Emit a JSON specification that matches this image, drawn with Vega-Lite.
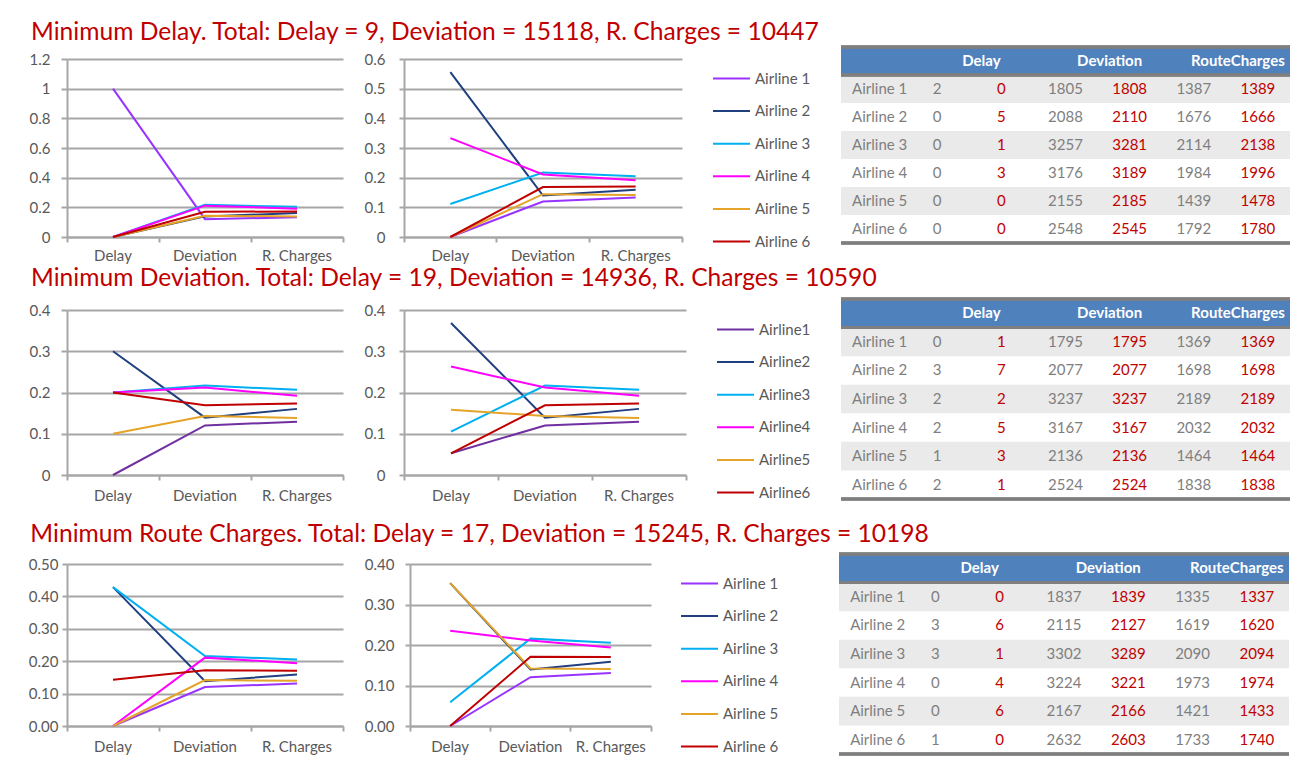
{
 "$schema": "https://vega.github.io/schema/vega-lite/v6.json",
 "padding": {"left": 28, "top": 19, "right": 0, "bottom": 0},
 "background": "white",
 "config": {
  "font": "Lato",
  "view": {"stroke": null},
  "axis": {"labelFont": "Lato", "labelFontSize": 15, "labelColor": "#595959", "domainColor": "#A6A6A6", "tickColor": "#A6A6A6", "gridColor": "#A6A6A6", "gridWidth": 2, "domainWidth": 2, "tickWidth": 2, "title": null},
  "legend": {"title": null, "orient": "right", "padding": 0, "symbolType": "stroke", "symbolSize": 1369, "symbolStrokeWidth": 2, "labelFont": "Lato", "labelFontSize": 15, "labelColor": "#595959", "labelOffset": 4, "rowPadding": 4.6},
  "title": {"anchor": "start", "font": "Lato", "fontSize": 24.6, "fontWeight": "normal", "color": "#C00000", "offset": 0, "dx": 2}
 },
 "datasets": {
  "lines": [
   {"chart": "1L", "airline": "Airline 1", "Delay": 1, "Deviation": 0.1201, "RCharges": 0.1335},
   {"chart": "1L", "airline": "Airline 2", "Delay": 0, "Deviation": 0.1389, "RCharges": 0.1613},
   {"chart": "1L", "airline": "Airline 3", "Delay": 0, "Deviation": 0.2167, "RCharges": 0.2034},
   {"chart": "1L", "airline": "Airline 4", "Delay": 0, "Deviation": 0.2113, "RCharges": 0.1909},
   {"chart": "1L", "airline": "Airline 5", "Delay": 0, "Deviation": 0.1434, "RCharges": 0.1385},
   {"chart": "1L", "airline": "Airline 6", "Delay": 0, "Deviation": 0.1695, "RCharges": 0.1724},
   {"chart": "1M", "airline": "Airline 1", "Delay": 0, "Deviation": 0.1196, "RCharges": 0.1330},
   {"chart": "1M", "airline": "Airline 2", "Delay": 0.5556, "Deviation": 0.1396, "RCharges": 0.1595},
   {"chart": "1M", "airline": "Airline 3", "Delay": 0.1111, "Deviation": 0.2170, "RCharges": 0.2047},
   {"chart": "1M", "airline": "Airline 4", "Delay": 0.3333, "Deviation": 0.2109, "RCharges": 0.1911},
   {"chart": "1M", "airline": "Airline 5", "Delay": 0, "Deviation": 0.1445, "RCharges": 0.1415},
   {"chart": "1M", "airline": "Airline 6", "Delay": 0, "Deviation": 0.1683, "RCharges": 0.1704},
   {"chart": "2L", "airline": "Airline1", "Delay": 0, "Deviation": 0.1202, "RCharges": 0.1293},
   {"chart": "2L", "airline": "Airline2", "Delay": 0.3, "Deviation": 0.1391, "RCharges": 0.1603},
   {"chart": "2L", "airline": "Airline3", "Delay": 0.2, "Deviation": 0.2167, "RCharges": 0.2067},
   {"chart": "2L", "airline": "Airline4", "Delay": 0.2, "Deviation": 0.2120, "RCharges": 0.1919},
   {"chart": "2L", "airline": "Airline5", "Delay": 0.1, "Deviation": 0.1430, "RCharges": 0.1382},
   {"chart": "2L", "airline": "Airline6", "Delay": 0.2, "Deviation": 0.1690, "RCharges": 0.1736},
   {"chart": "2M", "airline": "Airline1", "Delay": 0.0526, "Deviation": 0.1202, "RCharges": 0.1293},
   {"chart": "2M", "airline": "Airline2", "Delay": 0.3684, "Deviation": 0.1391, "RCharges": 0.1603},
   {"chart": "2M", "airline": "Airline3", "Delay": 0.1053, "Deviation": 0.2167, "RCharges": 0.2067},
   {"chart": "2M", "airline": "Airline4", "Delay": 0.2632, "Deviation": 0.2120, "RCharges": 0.1919},
   {"chart": "2M", "airline": "Airline5", "Delay": 0.1579, "Deviation": 0.1430, "RCharges": 0.1382},
   {"chart": "2M", "airline": "Airline6", "Delay": 0.0526, "Deviation": 0.1690, "RCharges": 0.1736},
   {"chart": "3L", "airline": "Airline 1", "Delay": 0, "Deviation": 0.1202, "RCharges": 0.1313},
   {"chart": "3L", "airline": "Airline 2", "Delay": 0.4286, "Deviation": 0.1384, "RCharges": 0.1592},
   {"chart": "3L", "airline": "Airline 3", "Delay": 0.4286, "Deviation": 0.2161, "RCharges": 0.2055},
   {"chart": "3L", "airline": "Airline 4", "Delay": 0, "Deviation": 0.2110, "RCharges": 0.1940},
   {"chart": "3L", "airline": "Airline 5", "Delay": 0, "Deviation": 0.1418, "RCharges": 0.1397},
   {"chart": "3L", "airline": "Airline 6", "Delay": 0.1429, "Deviation": 0.1723, "RCharges": 0.1704},
   {"chart": "3M", "airline": "Airline 1", "Delay": 0, "Deviation": 0.1206, "RCharges": 0.1311},
   {"chart": "3M", "airline": "Airline 2", "Delay": 0.3529, "Deviation": 0.1395, "RCharges": 0.1589},
   {"chart": "3M", "airline": "Airline 3", "Delay": 0.0588, "Deviation": 0.2157, "RCharges": 0.2053},
   {"chart": "3M", "airline": "Airline 4", "Delay": 0.2353, "Deviation": 0.2113, "RCharges": 0.1936},
   {"chart": "3M", "airline": "Airline 5", "Delay": 0.3529, "Deviation": 0.1421, "RCharges": 0.1405},
   {"chart": "3M", "airline": "Airline 6", "Delay": 0, "Deviation": 0.1707, "RCharges": 0.1706}
  ],
  "tab": [
   {"t": 1, "airline": "Airline 1", "gd": 2, "rd": 0, "gv": 1805, "rv": 1808, "gr": 1387, "rr": 1389},
   {"t": 1, "airline": "Airline 2", "gd": 0, "rd": 5, "gv": 2088, "rv": 2110, "gr": 1676, "rr": 1666},
   {"t": 1, "airline": "Airline 3", "gd": 0, "rd": 1, "gv": 3257, "rv": 3281, "gr": 2114, "rr": 2138},
   {"t": 1, "airline": "Airline 4", "gd": 0, "rd": 3, "gv": 3176, "rv": 3189, "gr": 1984, "rr": 1996},
   {"t": 1, "airline": "Airline 5", "gd": 0, "rd": 0, "gv": 2155, "rv": 2185, "gr": 1439, "rr": 1478},
   {"t": 1, "airline": "Airline 6", "gd": 0, "rd": 0, "gv": 2548, "rv": 2545, "gr": 1792, "rr": 1780},
   {"t": 2, "airline": "Airline 1", "gd": 0, "rd": 1, "gv": 1795, "rv": 1795, "gr": 1369, "rr": 1369},
   {"t": 2, "airline": "Airline 2", "gd": 3, "rd": 7, "gv": 2077, "rv": 2077, "gr": 1698, "rr": 1698},
   {"t": 2, "airline": "Airline 3", "gd": 2, "rd": 2, "gv": 3237, "rv": 3237, "gr": 2189, "rr": 2189},
   {"t": 2, "airline": "Airline 4", "gd": 2, "rd": 5, "gv": 3167, "rv": 3167, "gr": 2032, "rr": 2032},
   {"t": 2, "airline": "Airline 5", "gd": 1, "rd": 3, "gv": 2136, "rv": 2136, "gr": 1464, "rr": 1464},
   {"t": 2, "airline": "Airline 6", "gd": 2, "rd": 1, "gv": 2524, "rv": 2524, "gr": 1838, "rr": 1838},
   {"t": 3, "airline": "Airline 1", "gd": 0, "rd": 0, "gv": 1837, "rv": 1839, "gr": 1335, "rr": 1337},
   {"t": 3, "airline": "Airline 2", "gd": 3, "rd": 6, "gv": 2115, "rv": 2127, "gr": 1619, "rr": 1620},
   {"t": 3, "airline": "Airline 3", "gd": 3, "rd": 1, "gv": 3302, "rv": 3289, "gr": 2090, "rr": 2094},
   {"t": 3, "airline": "Airline 4", "gd": 0, "rd": 4, "gv": 3224, "rv": 3221, "gr": 1973, "rr": 1974},
   {"t": 3, "airline": "Airline 5", "gd": 0, "rd": 6, "gv": 2167, "rv": 2166, "gr": 1421, "rr": 1433},
   {"t": 3, "airline": "Airline 6", "gd": 1, "rd": 0, "gv": 2632, "rv": 2603, "gr": 1733, "rr": 1740}
  ],
  "hdr": [
   {"label": "Delay", "col": "rd"},
   {"label": "Deviation", "col": "rv"},
   {"label": "RouteCharges", "col": "rr"}
  ]
 },
 "columns": 1,
 "align": "none",
 "spacing": 11,
 "center": false,
 "resolve": {"scale": {"color": "independent"}},
 "concat": [
  {
   "columns": 1,
   "align": "none",
   "spacing": 2,
   "center": false,
   "resolve": {"scale": {"color": "independent"}},
   "concat": [
  {
   "title": {"text": "Minimum Delay. Total: Delay = 9, Deviation = 15118, R. Charges = 10447", "offset": 0},
   "align": "none",
   "spacing": 20,
   "resolve": {"scale": {"color": "independent"}},
   "concat": [
    {
     "width": 276, "height": 178,
     "data": {"name": "lines"},
     "transform": [{"filter": "datum.chart === '1L'"}, {"fold": ["Delay", "Deviation", "RCharges"], "as": ["metric", "share"]}],
     "mark": {"type": "line", "strokeWidth": 2},
     "encoding": {
      "x": {"field": "metric", "type": "nominal", "bandPosition": 0.5, "scale": {"type": "band", "domain": ["Delay", "Deviation", "RCharges"], "paddingInner": 0, "paddingOuter": 0}, "axis": {"labelExpr": "datum.value === 'RCharges' ? 'R. Charges' : datum.value", "bandPosition": 1, "tickExtra": true, "tickSize": 5, "labelPadding": 6, "labelAngle": 0, "labelOverlap": false, "grid": false}},
      "y": {"field": "share", "type": "quantitative", "scale": {"domain": [0, 1.2], "nice": false}, "axis": {"values": [0, 0.2, 0.4, 0.6, 0.8, 1, 1.2], "format": "~g", "grid": true, "tickSize": 6, "labelPadding": 11}},
      "color": {"field": "airline", "type": "nominal", "scale": {"domain": ["Airline 1", "Airline 2", "Airline 3", "Airline 4", "Airline 5", "Airline 6"], "range": ["#9933FF", "#1F3F7F", "#00B0F0", "#FF00FF", "#E5A428", "#C00000"]}, "legend": null}
     }
    },
    {
     "align": "none",
     "spacing": 28,
     "resolve": {"scale": {"color": "independent"}},
     "concat": [
      {
       "width": 278, "height": 178,
       "data": {"name": "lines"},
       "transform": [{"filter": "datum.chart === '1M'"}, {"fold": ["Delay", "Deviation", "RCharges"], "as": ["metric", "share"]}],
       "mark": {"type": "line", "strokeWidth": 2},
       "encoding": {
        "x": {"field": "metric", "type": "nominal", "bandPosition": 0.5, "scale": {"type": "band", "domain": ["Delay", "Deviation", "RCharges"], "paddingInner": 0, "paddingOuter": 0}, "axis": {"labelExpr": "datum.value === 'RCharges' ? 'R. Charges' : datum.value", "bandPosition": 1, "tickExtra": true, "tickSize": 5, "labelPadding": 6, "labelAngle": 0, "labelOverlap": false, "grid": false}},
        "y": {"field": "share", "type": "quantitative", "scale": {"domain": [0, 0.6], "nice": false}, "axis": {"values": [0, 0.1, 0.2, 0.3, 0.4, 0.5, 0.6], "format": "~g", "grid": true, "tickSize": 5, "labelPadding": 14}},
        "color": {"field": "airline", "type": "nominal", "scale": {"domain": ["Airline 1", "Airline 2", "Airline 3", "Airline 4", "Airline 5", "Airline 6"], "range": ["#9933FF", "#1F3F7F", "#00B0F0", "#FF00FF", "#E5A428", "#C00000"]}, "legend": {"offset": 30}}
       }
      },
      {
       "width": 449, "height": 196,
       "layer": [
        {"data": {"name": "tab"}, "transform": [{"filter": "datum.t === 1"}, {"filter": {"field": "airline", "oneOf": ["Airline 1", "Airline 3", "Airline 5"]}}],
         "mark": {"type": "rect", "fill": "#EAEAEA"},
         "encoding": {"y": {"field": "airline", "type": "nominal", "scale": {"domain": ["H", "Airline 1", "Airline 2", "Airline 3", "Airline 4", "Airline 5", "Airline 6"], "range": [-12, 184], "paddingInner": 0, "paddingOuter": 0}, "axis": null}}},
        {"data": {"name": "hdr"}, "mark": {"type": "rect", "fill": "#4F81BD"},
         "encoding": {"y": {"datum": "H", "type": "nominal", "scale": {"domain": ["H", "Airline 1", "Airline 2", "Airline 3", "Airline 4", "Airline 5", "Airline 6"], "range": [-12, 184], "paddingInner": 0, "paddingOuter": 0}, "axis": null}}},
        {"data": {"name": "hdr"}, "mark": {"type": "rule", "stroke": "#7F7F7F", "strokeWidth": 3},
         "encoding": {"y": {"datum": "H", "type": "nominal", "bandPosition": 0, "scale": {"domain": ["H", "Airline 1", "Airline 2", "Airline 3", "Airline 4", "Airline 5", "Airline 6"], "range": [-12, 184], "paddingInner": 0, "paddingOuter": 0}, "axis": null}}},
        {"data": {"name": "hdr"}, "mark": {"type": "rule", "stroke": "#7F7F7F", "strokeWidth": 3},
         "encoding": {"y": {"datum": "Airline 1", "type": "nominal", "bandPosition": 0, "scale": {"domain": ["H", "Airline 1", "Airline 2", "Airline 3", "Airline 4", "Airline 5", "Airline 6"], "range": [-12, 184], "paddingInner": 0, "paddingOuter": 0}, "axis": null}}},
        {"data": {"name": "hdr"}, "mark": {"type": "rule", "stroke": "#7F7F7F", "strokeWidth": 3},
         "encoding": {"y": {"datum": "Airline 6", "type": "nominal", "bandPosition": 1, "scale": {"domain": ["H", "Airline 1", "Airline 2", "Airline 3", "Airline 4", "Airline 5", "Airline 6"], "range": [-12, 184], "paddingInner": 0, "paddingOuter": 0}, "axis": null}}},
        {"data": {"name": "tab"}, "transform": [{"filter": "datum.t === 1"}],
         "mark": {"type": "text", "align": "left", "baseline": "middle", "dx": -21, "fontSize": 15, "font": "Lato", "fill": "#7F7F7F"},
         "encoding": {
          "x": {"datum": "name", "type": "nominal", "scale": {"domain": ["name", "gd", "rd", "gv", "rv", "gr", "rr"], "paddingInner": 0, "paddingOuter": 0}, "axis": null},
          "y": {"field": "airline", "type": "nominal", "scale": {"domain": ["H", "Airline 1", "Airline 2", "Airline 3", "Airline 4", "Airline 5", "Airline 6"], "range": [-12, 184], "paddingInner": 0, "paddingOuter": 0}, "axis": null},
          "text": {"field": "airline", "type": "nominal"}}},
        {"data": {"name": "tab"}, "transform": [{"filter": "datum.t === 1"}, {"fold": ["gd", "gv", "gr"], "as": ["col", "val"]}],
         "mark": {"type": "text", "align": "center", "baseline": "middle", "fontSize": 15, "font": "Lato", "fill": "#7F7F7F"},
         "encoding": {
          "x": {"field": "col", "type": "nominal", "scale": {"domain": ["name", "gd", "rd", "gv", "rv", "gr", "rr"], "paddingInner": 0, "paddingOuter": 0}, "axis": null},
          "y": {"field": "airline", "type": "nominal", "scale": {"domain": ["H", "Airline 1", "Airline 2", "Airline 3", "Airline 4", "Airline 5", "Airline 6"], "range": [-12, 184], "paddingInner": 0, "paddingOuter": 0}, "axis": null},
          "text": {"field": "val", "type": "nominal"}}},
        {"data": {"name": "tab"}, "transform": [{"filter": "datum.t === 1"}, {"fold": ["rd", "rv", "rr"], "as": ["col", "val"]}],
         "mark": {"type": "text", "align": "center", "baseline": "middle", "fontSize": 15, "font": "Lato", "fill": "#C00000"},
         "encoding": {
          "x": {"field": "col", "type": "nominal", "scale": {"domain": ["name", "gd", "rd", "gv", "rv", "gr", "rr"], "paddingInner": 0, "paddingOuter": 0}, "axis": null},
          "y": {"field": "airline", "type": "nominal", "scale": {"domain": ["H", "Airline 1", "Airline 2", "Airline 3", "Airline 4", "Airline 5", "Airline 6"], "range": [-12, 184], "paddingInner": 0, "paddingOuter": 0}, "axis": null},
          "text": {"field": "val", "type": "nominal"}}},
        {"data": {"name": "hdr"},
         "mark": {"type": "text", "align": "center", "baseline": "middle", "dx": -20, "fontSize": 15, "font": "Lato", "fontWeight": "bold", "fill": "#FFFFFF"},
         "encoding": {
          "x": {"field": "col", "type": "nominal", "scale": {"domain": ["name", "gd", "rd", "gv", "rv", "gr", "rr"], "paddingInner": 0, "paddingOuter": 0}, "axis": null},
          "y": {"datum": "H", "type": "nominal", "scale": {"domain": ["H", "Airline 1", "Airline 2", "Airline 3", "Airline 4", "Airline 5", "Airline 6"], "range": [-12, 184], "paddingInner": 0, "paddingOuter": 0}, "axis": null},
          "text": {"field": "label", "type": "nominal"}}}
       ]
      }
     ]
    }
   ]
  },
  {
   "title": {"text": "Minimum Deviation. Total: Delay = 19, Deviation = 14936, R. Charges = 10590", "offset": 6},
   "align": "none",
   "spacing": 20,
   "resolve": {"scale": {"color": "independent"}},
   "concat": [
    {
     "width": 276, "height": 165,
     "data": {"name": "lines"},
     "transform": [{"filter": "datum.chart === '2L'"}, {"fold": ["Delay", "Deviation", "RCharges"], "as": ["metric", "share"]}],
     "mark": {"type": "line", "strokeWidth": 2},
     "encoding": {
      "x": {"field": "metric", "type": "nominal", "bandPosition": 0.5, "scale": {"type": "band", "domain": ["Delay", "Deviation", "RCharges"], "paddingInner": 0, "paddingOuter": 0}, "axis": {"labelExpr": "datum.value === 'RCharges' ? 'R. Charges' : datum.value", "bandPosition": 1, "tickExtra": true, "tickSize": 5, "labelPadding": 8, "labelAngle": 0, "labelOverlap": false, "grid": false}},
      "y": {"field": "share", "type": "quantitative", "scale": {"domain": [0, 0.4], "nice": false}, "axis": {"values": [0, 0.1, 0.2, 0.3, 0.4], "format": "~g", "grid": true, "tickSize": 6, "labelPadding": 11}},
      "color": {"field": "airline", "type": "nominal", "scale": {"domain": ["Airline1", "Airline2", "Airline3", "Airline4", "Airline5", "Airline6"], "range": ["#7030A0", "#1F3F7F", "#00B0F0", "#FF00FF", "#E5A428", "#C00000"]}, "legend": null}
     }
    },
    {
     "align": "none",
     "spacing": 28,
     "resolve": {"scale": {"color": "independent"}},
     "concat": [
      {
       "width": 282, "height": 165,
       "data": {"name": "lines"},
       "transform": [{"filter": "datum.chart === '2M'"}, {"fold": ["Delay", "Deviation", "RCharges"], "as": ["metric", "share"]}],
       "mark": {"type": "line", "strokeWidth": 2},
       "encoding": {
        "x": {"field": "metric", "type": "nominal", "bandPosition": 0.5, "scale": {"type": "band", "domain": ["Delay", "Deviation", "RCharges"], "paddingInner": 0, "paddingOuter": 0}, "axis": {"labelExpr": "datum.value === 'RCharges' ? 'R. Charges' : datum.value", "bandPosition": 1, "tickExtra": true, "tickSize": 5, "labelPadding": 8, "labelAngle": 0, "labelOverlap": false, "grid": false}},
        "y": {"field": "share", "type": "quantitative", "scale": {"domain": [0, 0.4], "nice": false}, "axis": {"values": [0, 0.1, 0.2, 0.3, 0.4], "format": "~g", "grid": true, "tickSize": 5, "labelPadding": 14}},
        "color": {"field": "airline", "type": "nominal", "scale": {"domain": ["Airline1", "Airline2", "Airline3", "Airline4", "Airline5", "Airline6"], "range": ["#7030A0", "#1F3F7F", "#00B0F0", "#FF00FF", "#E5A428", "#C00000"]}, "legend": {"offset": 30}}
       }
      },
      {
       "width": 449, "height": 200,
       "layer": [
        {"data": {"name": "tab"}, "transform": [{"filter": "datum.t === 2"}, {"filter": {"field": "airline", "oneOf": ["Airline 1", "Airline 3", "Airline 5"]}}],
         "mark": {"type": "rect", "fill": "#EAEAEA"},
         "encoding": {"y": {"field": "airline", "type": "nominal", "scale": {"domain": ["H", "Airline 1", "Airline 2", "Airline 3", "Airline 4", "Airline 5", "Airline 6"], "range": [-11, 189], "paddingInner": 0, "paddingOuter": 0}, "axis": null}}},
        {"data": {"name": "hdr"}, "mark": {"type": "rect", "fill": "#4F81BD"},
         "encoding": {"y": {"datum": "H", "type": "nominal", "scale": {"domain": ["H", "Airline 1", "Airline 2", "Airline 3", "Airline 4", "Airline 5", "Airline 6"], "range": [-11, 189], "paddingInner": 0, "paddingOuter": 0}, "axis": null}}},
        {"data": {"name": "hdr"}, "mark": {"type": "rule", "stroke": "#7F7F7F", "strokeWidth": 3},
         "encoding": {"y": {"datum": "H", "type": "nominal", "bandPosition": 0, "scale": {"domain": ["H", "Airline 1", "Airline 2", "Airline 3", "Airline 4", "Airline 5", "Airline 6"], "range": [-11, 189], "paddingInner": 0, "paddingOuter": 0}, "axis": null}}},
        {"data": {"name": "hdr"}, "mark": {"type": "rule", "stroke": "#7F7F7F", "strokeWidth": 3},
         "encoding": {"y": {"datum": "Airline 1", "type": "nominal", "bandPosition": 0, "scale": {"domain": ["H", "Airline 1", "Airline 2", "Airline 3", "Airline 4", "Airline 5", "Airline 6"], "range": [-11, 189], "paddingInner": 0, "paddingOuter": 0}, "axis": null}}},
        {"data": {"name": "hdr"}, "mark": {"type": "rule", "stroke": "#7F7F7F", "strokeWidth": 3},
         "encoding": {"y": {"datum": "Airline 6", "type": "nominal", "bandPosition": 1, "scale": {"domain": ["H", "Airline 1", "Airline 2", "Airline 3", "Airline 4", "Airline 5", "Airline 6"], "range": [-11, 189], "paddingInner": 0, "paddingOuter": 0}, "axis": null}}},
        {"data": {"name": "tab"}, "transform": [{"filter": "datum.t === 2"}],
         "mark": {"type": "text", "align": "left", "baseline": "middle", "dx": -21, "fontSize": 15, "font": "Lato", "fill": "#7F7F7F"},
         "encoding": {
          "x": {"datum": "name", "type": "nominal", "scale": {"domain": ["name", "gd", "rd", "gv", "rv", "gr", "rr"], "paddingInner": 0, "paddingOuter": 0}, "axis": null},
          "y": {"field": "airline", "type": "nominal", "scale": {"domain": ["H", "Airline 1", "Airline 2", "Airline 3", "Airline 4", "Airline 5", "Airline 6"], "range": [-11, 189], "paddingInner": 0, "paddingOuter": 0}, "axis": null},
          "text": {"field": "airline", "type": "nominal"}}},
        {"data": {"name": "tab"}, "transform": [{"filter": "datum.t === 2"}, {"fold": ["gd", "gv", "gr"], "as": ["col", "val"]}],
         "mark": {"type": "text", "align": "center", "baseline": "middle", "fontSize": 15, "font": "Lato", "fill": "#7F7F7F"},
         "encoding": {
          "x": {"field": "col", "type": "nominal", "scale": {"domain": ["name", "gd", "rd", "gv", "rv", "gr", "rr"], "paddingInner": 0, "paddingOuter": 0}, "axis": null},
          "y": {"field": "airline", "type": "nominal", "scale": {"domain": ["H", "Airline 1", "Airline 2", "Airline 3", "Airline 4", "Airline 5", "Airline 6"], "range": [-11, 189], "paddingInner": 0, "paddingOuter": 0}, "axis": null},
          "text": {"field": "val", "type": "nominal"}}},
        {"data": {"name": "tab"}, "transform": [{"filter": "datum.t === 2"}, {"fold": ["rd", "rv", "rr"], "as": ["col", "val"]}],
         "mark": {"type": "text", "align": "center", "baseline": "middle", "fontSize": 15, "font": "Lato", "fill": "#C00000"},
         "encoding": {
          "x": {"field": "col", "type": "nominal", "scale": {"domain": ["name", "gd", "rd", "gv", "rv", "gr", "rr"], "paddingInner": 0, "paddingOuter": 0}, "axis": null},
          "y": {"field": "airline", "type": "nominal", "scale": {"domain": ["H", "Airline 1", "Airline 2", "Airline 3", "Airline 4", "Airline 5", "Airline 6"], "range": [-11, 189], "paddingInner": 0, "paddingOuter": 0}, "axis": null},
          "text": {"field": "val", "type": "nominal"}}},
        {"data": {"name": "hdr"},
         "mark": {"type": "text", "align": "center", "baseline": "middle", "dx": -20, "fontSize": 15, "font": "Lato", "fontWeight": "bold", "fill": "#FFFFFF"},
         "encoding": {
          "x": {"field": "col", "type": "nominal", "scale": {"domain": ["name", "gd", "rd", "gv", "rv", "gr", "rr"], "paddingInner": 0, "paddingOuter": 0}, "axis": null},
          "y": {"datum": "H", "type": "nominal", "scale": {"domain": ["H", "Airline 1", "Airline 2", "Airline 3", "Airline 4", "Airline 5", "Airline 6"], "range": [-11, 189], "paddingInner": 0, "paddingOuter": 0}, "axis": null},
          "text": {"field": "label", "type": "nominal"}}}
       ]
      }
     ]
    }
   ]
  }
   ]
  },
  {
   "title": {"text": "Minimum Route Charges. Total: Delay = 17, Deviation = 15245, R. Charges = 10198", "offset": 5},
   "align": "none",
   "spacing": 20,
   "resolve": {"scale": {"color": "independent"}},
   "concat": [
    {
     "width": 276, "height": 162,
     "data": {"name": "lines"},
     "transform": [{"filter": "datum.chart === '3L'"}, {"fold": ["Delay", "Deviation", "RCharges"], "as": ["metric", "share"]}],
     "mark": {"type": "line", "strokeWidth": 2},
     "encoding": {
      "x": {"field": "metric", "type": "nominal", "bandPosition": 0.5, "scale": {"type": "band", "domain": ["Delay", "Deviation", "RCharges"], "paddingInner": 0, "paddingOuter": 0}, "axis": {"labelExpr": "datum.value === 'RCharges' ? 'R. Charges' : datum.value", "bandPosition": 1, "tickExtra": true, "tickSize": 5, "labelPadding": 8, "labelAngle": 0, "labelOverlap": false, "grid": false}},
      "y": {"field": "share", "type": "quantitative", "scale": {"domain": [0, 0.5], "nice": false}, "axis": {"values": [0, 0.1, 0.2, 0.3, 0.4, 0.5], "format": ".2f", "grid": true, "tickSize": 5, "labelPadding": 4}},
      "color": {"field": "airline", "type": "nominal", "scale": {"domain": ["Airline 1", "Airline 2", "Airline 3", "Airline 4", "Airline 5", "Airline 6"], "range": ["#9933FF", "#1F3F7F", "#00B0F0", "#FF00FF", "#E5A428", "#C00000"]}, "legend": null}
     }
    },
    {
     "align": "none",
     "spacing": 58,
     "resolve": {"scale": {"color": "independent"}},
     "concat": [
      {
       "width": 241, "height": 162,
       "data": {"name": "lines"},
       "transform": [{"filter": "datum.chart === '3M'"}, {"fold": ["Delay", "Deviation", "RCharges"], "as": ["metric", "share"]}],
       "mark": {"type": "line", "strokeWidth": 2},
       "encoding": {
        "x": {"field": "metric", "type": "nominal", "bandPosition": 0.5, "scale": {"type": "band", "domain": ["Delay", "Deviation", "RCharges"], "paddingInner": 0, "paddingOuter": 0}, "axis": {"labelExpr": "datum.value === 'RCharges' ? 'R. Charges' : datum.value", "bandPosition": 1, "tickExtra": true, "tickSize": 5, "labelPadding": 8, "labelAngle": 0, "labelOverlap": false, "grid": false}},
        "y": {"field": "share", "type": "quantitative", "scale": {"domain": [0, 0.4], "nice": false}, "axis": {"values": [0, 0.1, 0.2, 0.3, 0.4], "format": ".2f", "grid": true, "tickSize": 5, "labelPadding": 11}},
        "color": {"field": "airline", "type": "nominal", "scale": {"domain": ["Airline 1", "Airline 2", "Airline 3", "Airline 4", "Airline 5", "Airline 6"], "range": ["#9933FF", "#1F3F7F", "#00B0F0", "#FF00FF", "#E5A428", "#C00000"]}, "legend": {"offset": 29}}
       }
      },
      {
       "width": 450, "height": 200,
       "layer": [
        {"data": {"name": "tab"}, "transform": [{"filter": "datum.t === 3"}, {"filter": {"field": "airline", "oneOf": ["Airline 1", "Airline 3", "Airline 5"]}}],
         "mark": {"type": "rect", "fill": "#EAEAEA"},
         "encoding": {"y": {"field": "airline", "type": "nominal", "scale": {"domain": ["H", "Airline 1", "Airline 2", "Airline 3", "Airline 4", "Airline 5", "Airline 6"], "range": [-10, 190], "paddingInner": 0, "paddingOuter": 0}, "axis": null}}},
        {"data": {"name": "hdr"}, "mark": {"type": "rect", "fill": "#4F81BD"},
         "encoding": {"y": {"datum": "H", "type": "nominal", "scale": {"domain": ["H", "Airline 1", "Airline 2", "Airline 3", "Airline 4", "Airline 5", "Airline 6"], "range": [-10, 190], "paddingInner": 0, "paddingOuter": 0}, "axis": null}}},
        {"data": {"name": "hdr"}, "mark": {"type": "rule", "stroke": "#7F7F7F", "strokeWidth": 3},
         "encoding": {"y": {"datum": "H", "type": "nominal", "bandPosition": 0, "scale": {"domain": ["H", "Airline 1", "Airline 2", "Airline 3", "Airline 4", "Airline 5", "Airline 6"], "range": [-10, 190], "paddingInner": 0, "paddingOuter": 0}, "axis": null}}},
        {"data": {"name": "hdr"}, "mark": {"type": "rule", "stroke": "#7F7F7F", "strokeWidth": 3},
         "encoding": {"y": {"datum": "Airline 1", "type": "nominal", "bandPosition": 0, "scale": {"domain": ["H", "Airline 1", "Airline 2", "Airline 3", "Airline 4", "Airline 5", "Airline 6"], "range": [-10, 190], "paddingInner": 0, "paddingOuter": 0}, "axis": null}}},
        {"data": {"name": "hdr"}, "mark": {"type": "rule", "stroke": "#7F7F7F", "strokeWidth": 3},
         "encoding": {"y": {"datum": "Airline 6", "type": "nominal", "bandPosition": 1, "scale": {"domain": ["H", "Airline 1", "Airline 2", "Airline 3", "Airline 4", "Airline 5", "Airline 6"], "range": [-10, 190], "paddingInner": 0, "paddingOuter": 0}, "axis": null}}},
        {"data": {"name": "tab"}, "transform": [{"filter": "datum.t === 3"}],
         "mark": {"type": "text", "align": "left", "baseline": "middle", "dx": -21, "fontSize": 15, "font": "Lato", "fill": "#7F7F7F"},
         "encoding": {
          "x": {"datum": "name", "type": "nominal", "scale": {"domain": ["name", "gd", "rd", "gv", "rv", "gr", "rr"], "paddingInner": 0, "paddingOuter": 0}, "axis": null},
          "y": {"field": "airline", "type": "nominal", "scale": {"domain": ["H", "Airline 1", "Airline 2", "Airline 3", "Airline 4", "Airline 5", "Airline 6"], "range": [-10, 190], "paddingInner": 0, "paddingOuter": 0}, "axis": null},
          "text": {"field": "airline", "type": "nominal"}}},
        {"data": {"name": "tab"}, "transform": [{"filter": "datum.t === 3"}, {"fold": ["gd", "gv", "gr"], "as": ["col", "val"]}],
         "mark": {"type": "text", "align": "center", "baseline": "middle", "fontSize": 15, "font": "Lato", "fill": "#7F7F7F"},
         "encoding": {
          "x": {"field": "col", "type": "nominal", "scale": {"domain": ["name", "gd", "rd", "gv", "rv", "gr", "rr"], "paddingInner": 0, "paddingOuter": 0}, "axis": null},
          "y": {"field": "airline", "type": "nominal", "scale": {"domain": ["H", "Airline 1", "Airline 2", "Airline 3", "Airline 4", "Airline 5", "Airline 6"], "range": [-10, 190], "paddingInner": 0, "paddingOuter": 0}, "axis": null},
          "text": {"field": "val", "type": "nominal"}}},
        {"data": {"name": "tab"}, "transform": [{"filter": "datum.t === 3"}, {"fold": ["rd", "rv", "rr"], "as": ["col", "val"]}],
         "mark": {"type": "text", "align": "center", "baseline": "middle", "fontSize": 15, "font": "Lato", "fill": "#C00000"},
         "encoding": {
          "x": {"field": "col", "type": "nominal", "scale": {"domain": ["name", "gd", "rd", "gv", "rv", "gr", "rr"], "paddingInner": 0, "paddingOuter": 0}, "axis": null},
          "y": {"field": "airline", "type": "nominal", "scale": {"domain": ["H", "Airline 1", "Airline 2", "Airline 3", "Airline 4", "Airline 5", "Airline 6"], "range": [-10, 190], "paddingInner": 0, "paddingOuter": 0}, "axis": null},
          "text": {"field": "val", "type": "nominal"}}},
        {"data": {"name": "hdr"},
         "mark": {"type": "text", "align": "center", "baseline": "middle", "dx": -20, "fontSize": 15, "font": "Lato", "fontWeight": "bold", "fill": "#FFFFFF"},
         "encoding": {
          "x": {"field": "col", "type": "nominal", "scale": {"domain": ["name", "gd", "rd", "gv", "rv", "gr", "rr"], "paddingInner": 0, "paddingOuter": 0}, "axis": null},
          "y": {"datum": "H", "type": "nominal", "scale": {"domain": ["H", "Airline 1", "Airline 2", "Airline 3", "Airline 4", "Airline 5", "Airline 6"], "range": [-10, 190], "paddingInner": 0, "paddingOuter": 0}, "axis": null},
          "text": {"field": "label", "type": "nominal"}}}
       ]
      }
     ]
    }
   ]
  }
 ]
}
